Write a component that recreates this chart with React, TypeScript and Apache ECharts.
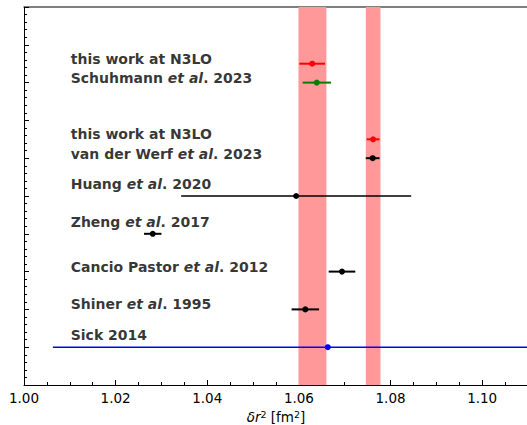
import React, { useEffect, useRef } from 'react';
import * as echarts from 'echarts';

// Text labels on the left (value-space anchors)
const labelTexts = [
  'this work at N3LO',
  'Schuhmann {i|et al}. 2023',
  'this work at N3LO',
  'van der Werf {i|et al}. 2023',
  'Huang {i|et al}. 2020',
  'Zheng {i|et al}. 2017',
  'Cancio Pastor {i|et al}. 2012',
  'Shiner {i|et al}. 1995',
  'Sick 2014',
];
const labelY = [8.62, 8.12, 6.63, 6.1, 5.31, 4.3, 3.11, 2.14, 1.32];
const labelX = 1.0102;

// Measurements (points with horizontal error bars)
const pointY = [8.5, 8, 6.5, 6, 5, 4, 3, 2, 1];
const pointX = [1.0629, 1.0639, 1.0762, 1.0761, 1.0594, 1.0281, 1.0694, 1.0614, 1.0663];
const pointErr = [0.0028, 0.0031, 0.0014, 0.0015, 0.0251, 0.0019, 0.0029, 0.003, 0.06];
const pointColors = ['#ff0000', '#008000', '#ff0000', '#000000', '#000000', '#000000', '#000000', '#000000', '#0000ff'];
const barWidths = [2, 2, 2, 2, 1.5, 2, 2, 2, 1.5];

// Shaded bands
const bandLo = [1.0599, 1.0746];
const bandHi = [1.066, 1.0778];

const FONT = 'DejaVu Sans';

export default function App() {
  const ref = useRef<HTMLDivElement>(null);
  useEffect(() => {
    if (!ref.current) return;
    const chart = echarts.init(ref.current, undefined, { renderer: 'svg' });
    const errData = pointX.map((x, i) => [x, pointY[i], pointErr[i]]);
    const option: any = {
      animation: false,
      backgroundColor: '#ffffff',
      grid: { left: 24, right: -1, top: 7, bottom: 40, containLabel: false, outerBoundsMode: 'none' },
      xAxis: [
        {
          type: 'value',
          min: 1.0,
          max: 1.11,
          interval: 0.02,
          position: 'bottom',
          axisLine: { show: true, lineStyle: { color: '#000', width: 1 } },
          axisTick: { show: true, inside: true, length: 5, lineStyle: { color: '#000', width: 1 } },
          minorTick: { show: true, splitNumber: 4, length: 3, lineStyle: { color: '#000', width: 1 } },
          splitLine: { show: false },
          axisLabel: {
            show: true,
            color: '#000',
            fontSize: 13.5,
            fontFamily: FONT,
            margin: 6,
            showMaxLabel: false,
            formatter: (v: number) => v.toFixed(2),
          },
          name: '{i|δr}{s|2} [fm{s|2}]',
          nameLocation: 'middle',
          nameGap: 17,
          nameTextStyle: {
            color: '#000',
            fontSize: 13.5,
            fontFamily: FONT,
            lineHeight: 14,
            rich: {
              i: { fontStyle: 'italic', fontSize: 13.5, fontFamily: FONT, color: '#000', lineHeight: 14, verticalAlign: 'bottom' },
              s: { fontSize: 9.5, fontFamily: FONT, color: '#000', lineHeight: 14, verticalAlign: 'top' },
            },
          },
        },
        {
          type: 'value',
          min: 1.0,
          max: 1.11,
          position: 'top',
          axisLine: { show: true, lineStyle: { color: '#555', width: 1.5 } },
          axisTick: { show: false },
          axisLabel: { show: false },
          splitLine: { show: false },
        },
      ],
      yAxis: {
        type: 'value',
        min: 0,
        max: 10,
        interval: 1,
        axisLine: { show: true, lineStyle: { color: '#000', width: 1 } },
        axisTick: { show: true, inside: true, length: 5, lineStyle: { color: '#000', width: 1 } },
        minorTick: { show: true, splitNumber: 5, length: 3, lineStyle: { color: '#000', width: 1 } },
        axisLabel: { show: false },
        splitLine: { show: false },
      },
      series: [
        {
          type: 'line',
          data: [],
          z: 1,
          markArea: {
            silent: true,
            itemStyle: { color: '#ff9999', opacity: 1 },
            data: bandLo.map((lo, i) => [{ xAxis: lo }, { xAxis: bandHi[i] }]),
          },
        },
        {
          type: 'custom',
          z: 3,
          clip: true,
          data: errData,
          renderItem: (params: any, api: any) => {
            const i = params.dataIndex;
            const x = api.value(0);
            const y = api.value(1);
            const e = api.value(2);
            const p0 = api.coord([x - e, y]);
            const p1 = api.coord([x + e, y]);
            const c = api.coord([x, y]);
            const col = pointColors[i];
            return {
              type: 'group',
              children: [
                {
                  type: 'line',
                  shape: { x1: p0[0], y1: p0[1], x2: p1[0], y2: p1[1] },
                  style: { stroke: col, lineWidth: barWidths[i] },
                },
                {
                  type: 'circle',
                  shape: { cx: c[0], cy: c[1], r: 3 },
                  style: { fill: col, stroke: null },
                },
              ],
            };
          },
        },
        {
          type: 'scatter',
          z: 4,
          symbolSize: 0,
          silent: true,
          data: labelY.map((y) => [labelX, y]),
          label: {
            show: true,
            position: 'inside',
            align: 'left',
            verticalAlign: 'middle',
            color: '#000',
            fontSize: 14,
            fontWeight: 'bold',
            fontFamily: FONT,
            formatter: (p: any) => labelTexts[p.dataIndex],
            rich: {
              i: { fontStyle: 'italic', fontWeight: 'bold', fontSize: 14, fontFamily: FONT, color: '#000' },
            },
          },
        },
      ],
    };
    chart.setOption(option);
    return () => chart.dispose();
  }, []);
  return (
    <div
      ref={ref}
      style={{ position: 'fixed', left: 0, top: 0, width: 527, height: 425, background: '#fff' }}
    />
  );
}
